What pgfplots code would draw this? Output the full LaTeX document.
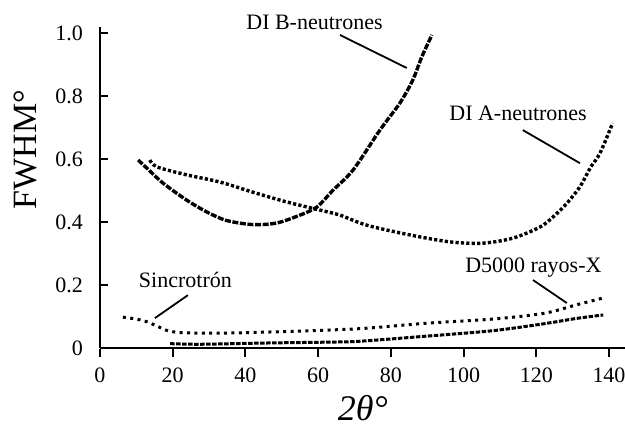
\documentclass[border=0pt]{standalone}
\usepackage{pgfplots}
\pgfplotsset{compat=1.18}
\usepackage{fontspec}
\setmainfont{Liberation Serif}
\begin{document}
\begin{tikzpicture}
\begin{axis}[
  x=1.818pt, y=157.5pt,
  xmin=0, xmax=144.4, ymin=0, ymax=1.02,
  axis x line=bottom, axis y line=left,
  axis line style={-, line width=1pt, black},
  clip=false,
  xtick={0,20,40,60,80,100,120,140},
  ytick={0,0.2,0.4,0.6,0.8,1.0},
  yticklabels={0,0.2,0.4,0.6,0.8,1.0},
  tick align=inside,
  major tick length=4pt,
  tick style={line width=1pt, black},
  x tick style={yshift=-4.5pt},
  /pgf/number format/assume math mode=true,
  ticklabel style={font=\fontsize{11}{12}\selectfont},
  yticklabel style={xshift=-5pt},
  xticklabel style={yshift=-6.5pt},
]
\addplot[black, line width=1.7pt, dash pattern=on 3pt off 0.8pt, smooth] coordinates {
(10.5,0.597) (13,0.57) (17.3,0.524) (23.8,0.47) (29.4,0.432) (34.8,0.405) (42,0.392) (48.6,0.397) (55,0.422) (59.7,0.448) (64,0.50) (69.6,0.565) (77,0.692) (82.5,0.778) (86,0.85) (88.5,0.924) (91.3,0.994)};
\addplot[black, line width=1.7pt, dash pattern=on 1.6pt off 1.1pt, smooth] coordinates {
(13.7,0.597) (15.7,0.575) (23.8,0.55) (33,0.527) (42,0.495) (51.3,0.464) (60.5,0.438) (66,0.422) (73.4,0.39) (85.3,0.359) (96.3,0.337) (105.3,0.333) (113.6,0.349) (121,0.384) (124.6,0.416) (128.3,0.458) (132,0.512) (135,0.575) (137.5,0.618) (141,0.714)};
\addplot[black, line width=1.5pt, dash pattern=on 1.5pt off 2.2pt, smooth] coordinates {
(6.3,0.098) (10,0.092) (13,0.083) (16,0.068) (19,0.054) (24,0.048) (36.7,0.048) (55,0.054) (72,0.062) (90,0.079) (108,0.092) (122,0.11) (131,0.137) (138.4,0.159)};
\addplot[black, line width=1.5pt, dash pattern=on 2.2pt off 0.8pt, smooth] coordinates {
(19.3,0.014) (27.5,0.012) (45.8,0.016) (64,0.019) (72,0.022) (90,0.038) (108,0.055) (122,0.077) (131,0.094) (138.4,0.105)};
% labels
\node[font=\fontsize{11}{13}\selectfont] at (axis cs:59,1.035) {DI B-neutrones};
\draw[line width=0.9pt] (axis cs:66,0.994) -- (axis cs:84.4,0.889);
\node[font=\fontsize{11}{13}\selectfont] at (axis cs:115,0.746) {DI A-neutrones};
\draw[line width=0.9pt] (axis cs:116.3,0.692) -- (axis cs:132,0.587);
\node[font=\fontsize{11}{13}\selectfont] at (axis cs:23.5,0.216) {Sincrotrón};
\draw[line width=0.9pt] (axis cs:24.2,0.168) -- (axis cs:15.1,0.095);
\node[font=\fontsize{11}{13}\selectfont] at (axis cs:119.2,0.257) {D5000 rayos-X};
\draw[line width=0.9pt] (axis cs:119.1,0.216) -- (axis cs:128.4,0.143);
\node[rotate=90, font=\fontsize{17}{20}\selectfont] at (axis cs:-20.4,0.63) {FWHM°};
\node[font=\fontsize{18}{20}\selectfont\itshape] at (axis cs:72.3,-0.19) {2θ°};
\coordinate (bl) at (axis cs:-27.5,-0.248);
\coordinate (tr) at (axis cs:144.4,1.105);
\end{axis}
\pgfresetboundingbox
\useasboundingbox (bl) rectangle (tr);
\end{tikzpicture}
\end{document}
